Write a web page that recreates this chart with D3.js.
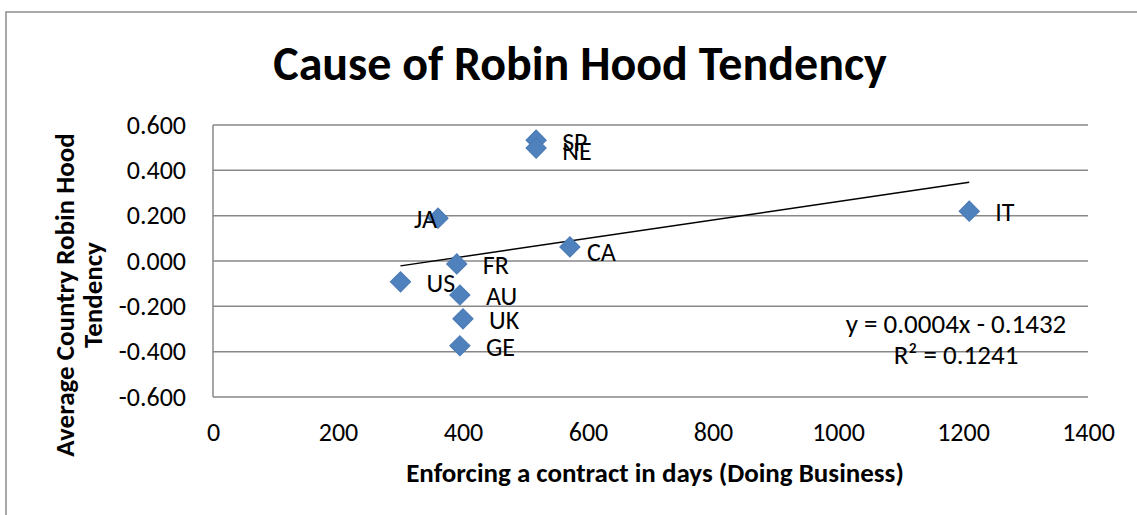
<!DOCTYPE html>
<html><head><meta charset="utf-8">
<script src="https://cdn.jsdelivr.net/npm/d3@7"></script>
<style>
html,body{margin:0;padding:0;background:#fff;}
svg{display:block;font-family:Carlito, Lato, "Open Sans", sans-serif;}
</style></head>
<body>
<svg id="chart" width="1137" height="515"></svg>
<script>
// ---- data ----
const countries = ["SP","NE","JA","IT","CA","FR","US","AU","UK","GE"];
const enforceDays = [517, 517, 360, 1210, 571, 390, 300, 395, 400, 395];
const robinHood = [0.533, 0.498, 0.189, 0.220, 0.062, -0.013, -0.092, -0.150, -0.255, -0.374];
const xTicks = [0, 200, 400, 600, 800, 1000, 1200, 1400];
const yTicks = [-0.6, -0.4, -0.2, 0, 0.2, 0.4, 0.6];
const titleText = "Cause of Robin Hood Tendency";
const xTitle = "Enforcing a contract in days (Doing Business)";
const yTitleLines = ["Average Country Robin Hood", "Tendency"];
const equationLines = ["y = 0.0004x - 0.1432", "R² = 0.1241"];

const svg = d3.select("#chart");
const W = 1137, H = 515;
const plot = {left: 213, right: 1088, top: 125, bottom: 397};
const FONT = "Carlito, Lato, sans-serif";

// chart border
svg.append("path").attr("d", `M6,${H} L6,12 L${W},12`)
  .attr("fill","none").attr("stroke","#8c8c8c").attr("stroke-width",1.5);

const x = d3.scaleLinear().domain([0,1400]).range([plot.left, plot.right]);
const y = d3.scaleLinear().domain([-0.6,0.6]).range([plot.bottom, plot.top]);

// gridlines
svg.append("g").selectAll("line").data(yTicks).join("line")
  .attr("x1", plot.left).attr("x2", plot.right)
  .attr("y1", d=>y(d)).attr("y2", d=>y(d))
  .attr("stroke","#888").attr("stroke-width",1.5);
// left axis line
svg.append("line").attr("x1",plot.left).attr("x2",plot.left)
  .attr("y1",plot.top).attr("y2",plot.bottom)
  .attr("stroke","#888").attr("stroke-width",1.5);

// axes labels
const f3 = d3.format(".3f");
const yAxis = d3.axisLeft(y).tickValues(yTicks).tickFormat(d=>f3(d).replace("\u2212","-")).tickSize(0).tickPadding(27);
const gy = svg.append("g").attr("transform",`translate(${plot.left},0)`).call(yAxis);
gy.select(".domain").remove();
gy.selectAll("text").attr("font-size",26).attr("fill","#000").attr("font-family",FONT);

const xAxis = d3.axisBottom(x).tickValues(xTicks).tickFormat(d3.format("d")).tickSize(0).tickPadding(26);
const gx = svg.append("g").attr("transform",`translate(0,${plot.bottom})`).call(xAxis);
gx.select(".domain").remove();
gx.selectAll("text").attr("font-size",26).attr("fill","#000").attr("font-family",FONT);

// title
svg.append("text").attr("x",580).attr("y",80).attr("text-anchor","middle")
  .attr("font-size",48).attr("font-weight","bold").text(titleText);

// x title
svg.append("text").attr("x",655).attr("y",482).attr("text-anchor","middle")
  .attr("font-size",27).attr("font-weight","bold").text(xTitle);

// y title
const yt = svg.append("text").attr("transform","translate(74,295) rotate(-90)")
  .attr("text-anchor","middle").attr("font-size",27).attr("font-weight","bold");
yTitleLines.forEach((t,i)=>{
  yt.append("tspan").attr("x",0).attr("dy", i===0?0:28).text(t);
});

// trendline via least squares
const n = enforceDays.length;
const mx = d3.mean(enforceDays), my = d3.mean(robinHood);
let sxy=0, sxx=0;
for(let i=0;i<n;i++){ sxy += (enforceDays[i]-mx)*(robinHood[i]-my); sxx += (enforceDays[i]-mx)**2; }
const slope = sxy/sxx, intercept = my - slope*mx;
const [xmin,xmax] = d3.extent(enforceDays);
svg.append("line")
  .attr("x1",x(xmin)).attr("y1",y(slope*xmin+intercept))
  .attr("x2",x(xmax)).attr("y2",y(slope*xmax+intercept))
  .attr("stroke","#000").attr("stroke-width",1.5);

// points
const pts = countries.map((c,i)=>({c, xv:enforceDays[i], yv:robinHood[i]}));
const sym = d3.symbol().type(d3.symbolSquare).size(205);
svg.append("g").selectAll("path").data(pts).join("path")
  .attr("d", sym)
  .attr("transform", d=>`translate(${x(d.xv)},${y(d.yv)}) rotate(45)`)
  .attr("fill","#4f81bd").attr("stroke","#4a7ab5").attr("stroke-width",1);

// labels
svg.append("g").selectAll("text").data(pts).join("text")
  .attr("x", d=> d.c==="JA" ? x(d.xv)-1 : d.c==="CA" ? x(d.xv)+17 : x(d.xv)+26)
  .attr("y", d=> y(d.yv) + (d.c==="CA"?5 : d.c==="SP"?2 : d.c==="NE"?3 : 1))
  .attr("text-anchor", d=> d.c==="JA" ? "end" : "start")
  .attr("dominant-baseline","central")
  .attr("font-size",26).attr("fill","#000").text(d=>d.c);

// equation
const eq = svg.append("text").attr("x",956).attr("y",333).attr("text-anchor","middle").attr("font-size",27);
equationLines.forEach((t,i)=>{ eq.append("tspan").attr("x",956).attr("dy", i===0?0:31).text(t); });
</script>
</body></html>
